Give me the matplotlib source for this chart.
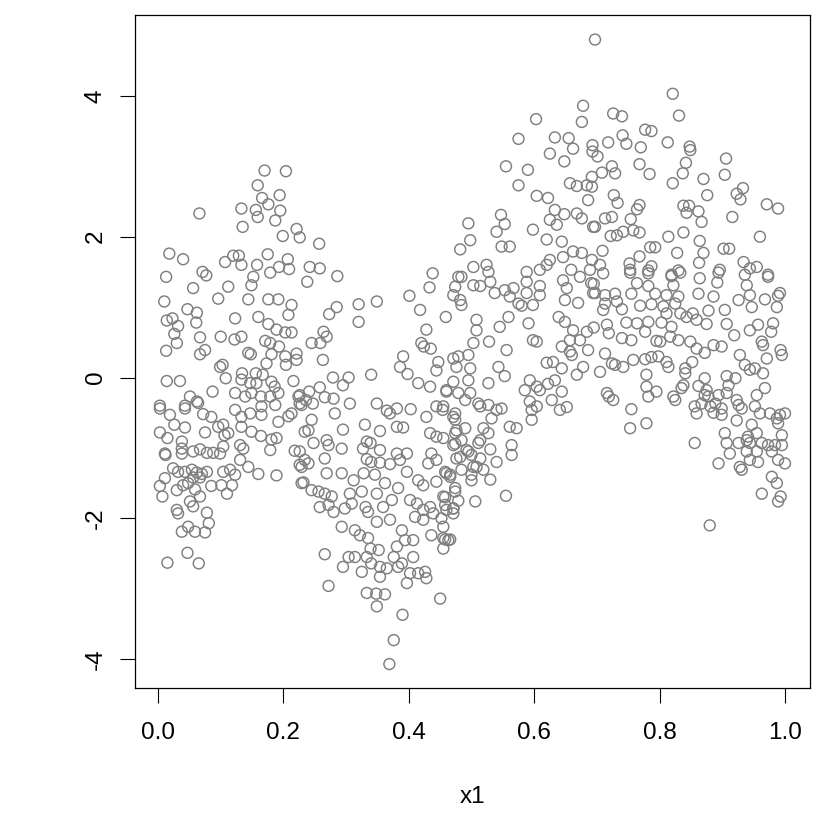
import numpy as np
import matplotlib
matplotlib.use("Agg")
import matplotlib.pyplot as plt

# points, (x1, y), grouped by area of the plot
left_upper = [
    (0.170, 2.94), (0.204, 2.93), (0.159, 2.73), (0.194, 2.59), (0.166, 2.55), (0.176, 2.46),
    (0.066, 2.33), (0.133, 2.40), (0.156, 2.38), (0.195, 2.37), (0.159, 2.28), (0.187, 2.23),
    (0.135, 2.14), (0.221, 2.11), (0.226, 1.99), (0.199, 2.01), (0.018, 1.76), (0.040, 1.68),
    (0.107, 1.64), (0.120, 1.73), (0.129, 1.73), (0.133, 1.60), (0.175, 1.75), (0.158, 1.60),
    (0.207, 1.68), (0.193, 1.57), (0.209, 1.54), (0.179, 1.49), (0.152, 1.43), (0.013, 1.43),
    (0.071, 1.50), (0.077, 1.45), (0.149, 1.31), (0.056, 1.27), (0.112, 1.29), (0.096, 1.12),
    (0.144, 1.11), (0.176, 1.11), (0.192, 1.11), (0.213, 1.03), (0.010, 1.08), (0.047, 0.97),
    (0.062, 0.92), (0.208, 0.89), (0.123, 0.84), (0.160, 0.86), (0.014, 0.81), (0.023, 0.84),
    (0.032, 0.73), (0.061, 0.78), (0.176, 0.76), (0.189, 0.68), (0.203, 0.64), (0.213, 0.64),
    (0.026, 0.62), (0.067, 0.57), (0.100, 0.58), (0.122, 0.54), (0.133, 0.58), (0.171, 0.52),
    (0.179, 0.49), (0.193, 0.44), (0.013, 0.38), (0.030, 0.49), (0.075, 0.39), (0.067, 0.33),
    (0.144, 0.35), (0.148, 0.33), (0.181, 0.33), (0.203, 0.30), (0.221, 0.34), (0.221, 0.25),
    (0.173, 0.20), (0.204, 0.18), (0.099, 0.15), (0.103, 0.18), (0.108, -0.01), (0.134, 0.06),
    (0.156, 0.06), (0.167, 0.04), (0.133, -0.03), (0.147, -0.08), (0.157, -0.08), (0.181, -0.06),
    (0.186, -0.13), (0.216, -0.05), (0.014, -0.05), (0.035, -0.05), (0.087, -0.20), (0.123, -0.22),
    (0.139, -0.27), (0.149, -0.22), (0.164, -0.27), (0.179, -0.27), (0.192, -0.22), (0.051, -0.27),
    (0.062, -0.34), (0.003, -0.40), (0.043, -0.40), (0.224, -0.27), (0.229, -0.39),
]

left_lower = [
    (0.003, -0.44), (0.019, -0.53), (0.043, -0.44), (0.064, -0.36), (0.072, -0.52), (0.085, -0.56),
    (0.026, -0.67), (0.043, -0.71), (0.003, -0.78), (0.015, -0.86), (0.038, -0.91), (0.038, -1.01),
    (0.075, -0.78), (0.096, -0.70), (0.104, -0.67), (0.112, -0.79), (0.123, -0.46), (0.133, -0.56),
    (0.147, -0.51), (0.165, -0.41), (0.165, -0.53), (0.187, -0.39), (0.192, -0.63), (0.208, -0.55),
    (0.213, -0.51), (0.226, -0.37), (0.133, -0.70), (0.149, -0.77), (0.164, -0.83), (0.181, -0.88),
    (0.189, -0.86), (0.106, -0.82), (0.104, -0.98), (0.131, -0.96), (0.136, -1.01), (0.179, -1.03),
    (0.011, -1.08), (0.012, -1.10), (0.056, -1.05), (0.067, -1.02), (0.078, -1.07), (0.088, -1.07),
    (0.099, -1.08), (0.038, -1.08), (0.218, -1.04), (0.226, -1.05), (0.234, -0.77), (0.229, -1.27),
    (0.229, -1.50), (0.131, -1.17), (0.144, -1.27), (0.160, -1.37), (0.189, -1.39), (0.024, -1.29),
    (0.032, -1.34), (0.043, -1.34), (0.054, -1.31), (0.062, -1.35), (0.070, -1.37), (0.078, -1.34),
    (0.056, -1.42), (0.067, -1.42), (0.104, -1.34), (0.115, -1.31), (0.123, -1.38), (0.011, -1.43),
    (0.003, -1.54), (0.007, -1.69), (0.030, -1.60), (0.040, -1.53), (0.048, -1.50), (0.059, -1.59),
    (0.085, -1.54), (0.101, -1.53), (0.110, -1.65), (0.118, -1.53), (0.067, -1.69), (0.051, -1.76),
    (0.056, -1.83), (0.030, -1.88), (0.032, -1.93), (0.078, -1.92), (0.048, -2.12), (0.038, -2.19),
    (0.059, -2.19), (0.075, -2.20), (0.081, -2.07), (0.047, -2.49), (0.015, -2.63), (0.065, -2.64),
]

trough = [
    (0.285, 1.00), (0.273, 0.90), (0.320, 1.04), (0.349, 1.08), (0.320, 0.79), (0.418, 0.96),
    (0.459, 0.86), (0.428, 0.68), (0.420, 0.49), (0.424, 0.44), (0.435, 0.41), (0.245, 0.49),
    (0.259, 0.49), (0.264, 0.65), (0.269, 0.58), (0.263, 0.25), (0.391, 0.30), (0.386, 0.15),
    (0.398, 0.05), (0.447, 0.22), (0.444, 0.10), (0.340, 0.04), (0.279, 0.00), (0.304, 0.00),
    (0.295, -0.11), (0.258, -0.14), (0.415, -0.08), (0.434, -0.13), (0.460, -0.18), (0.226, -0.25),
    (0.241, -0.20), (0.236, -0.32), (0.247, -0.37), (0.266, -0.28), (0.280, -0.30), (0.306, -0.37),
    (0.282, -0.51), (0.349, -0.37), (0.365, -0.47), (0.370, -0.51), (0.381, -0.44), (0.403, -0.45),
    (0.428, -0.56), (0.444, -0.41), (0.454, -0.46), (0.471, -0.56), (0.245, -0.60), (0.240, -0.75),
    (0.295, -0.74), (0.330, -0.67), (0.354, -0.76), (0.381, -0.70), (0.391, -0.71), (0.434, -0.79),
    (0.444, -0.84), (0.474, -0.79), (0.248, -0.93), (0.269, -0.89), (0.272, -0.96), (0.293, -1.01),
    (0.327, -1.01), (0.333, -0.91), (0.339, -0.93), (0.354, -1.03), (0.381, -1.08), (0.397, -1.08),
    (0.436, -1.08), (0.476, -1.15), (0.266, -1.15), (0.234, -1.17), (0.240, -1.22), (0.226, -1.24),
    (0.333, -1.16), (0.340, -1.20), (0.354, -1.21), (0.370, -1.23), (0.386, -1.17), (0.431, -1.22),
    (0.444, -1.17), (0.458, -1.34), (0.466, -1.38), (0.269, -1.36), (0.293, -1.36), (0.312, -1.46),
    (0.328, -1.36), (0.346, -1.38), (0.397, -1.34), (0.232, -1.49), (0.245, -1.60), (0.256, -1.62),
    (0.266, -1.65), (0.277, -1.69), (0.306, -1.65), (0.325, -1.62), (0.349, -1.65), (0.362, -1.50),
    (0.383, -1.57), (0.415, -1.46), (0.423, -1.53), (0.444, -1.48), (0.455, -1.69), (0.474, -1.62),
    (0.258, -1.84), (0.272, -1.81), (0.280, -1.91), (0.298, -1.86), (0.309, -1.79), (0.331, -1.84),
    (0.335, -1.91), (0.359, -1.84), (0.373, -1.74), (0.402, -1.74), (0.413, -1.79), (0.423, -1.88),
    (0.434, -1.84), (0.410, -1.98), (0.423, -2.02), (0.439, -1.93), (0.458, -1.81), (0.471, -1.86),
    (0.293, -2.12), (0.314, -2.17), (0.322, -2.24), (0.335, -2.28), (0.349, -2.05), (0.370, -2.02),
    (0.389, -2.17), (0.436, -2.24), (0.455, -2.28), (0.463, -2.31), (0.407, -2.31), (0.394, -2.31),
    (0.339, -2.43), (0.352, -2.45), (0.381, -2.40), (0.266, -2.51), (0.304, -2.55), (0.314, -2.55),
    (0.333, -2.55), (0.295, -2.69), (0.325, -2.76), (0.340, -2.64), (0.354, -2.69), (0.365, -2.71),
    (0.376, -2.55), (0.383, -2.69), (0.389, -2.64), (0.407, -2.55), (0.402, -2.78), (0.415, -2.78),
    (0.426, -2.76), (0.428, -2.85), (0.354, -2.83), (0.397, -2.92), (0.272, -2.96), (0.333, -3.06),
    (0.348, -3.07), (0.362, -3.08), (0.349, -3.25), (0.450, -3.14), (0.390, -3.37), (0.376, -3.73),
    (0.369, -4.07), (0.257, 1.90), (0.242, 1.57), (0.258, 1.55), (0.286, 1.44), (0.238, 1.36),
    (0.438, 1.48), (0.433, 1.28), (0.401, 1.16),
]

rise = [
    (0.575, 2.73), (0.604, 2.58), (0.622, 2.55), (0.657, 2.76), (0.668, 2.72), (0.684, 2.73),
    (0.686, 2.52), (0.633, 2.38), (0.648, 2.32), (0.668, 2.33), (0.676, 2.26), (0.625, 2.24),
    (0.636, 2.17), (0.598, 2.10), (0.694, 2.14), (0.547, 2.31), (0.553, 2.18), (0.540, 2.07),
    (0.495, 2.19), (0.498, 1.95), (0.482, 1.82), (0.548, 1.86), (0.561, 1.86), (0.620, 1.96),
    (0.644, 1.93), (0.662, 1.79), (0.676, 1.77), (0.625, 1.67), (0.646, 1.71), (0.620, 1.60),
    (0.503, 1.57), (0.524, 1.60), (0.527, 1.50), (0.479, 1.43), (0.484, 1.43), (0.588, 1.50),
    (0.609, 1.53), (0.659, 1.53), (0.689, 1.53), (0.673, 1.43), (0.588, 1.36), (0.609, 1.30),
    (0.646, 1.38), (0.652, 1.27), (0.691, 1.34), (0.503, 1.31), (0.514, 1.30), (0.530, 1.36),
    (0.537, 1.20), (0.553, 1.24), (0.567, 1.27), (0.588, 1.20), (0.609, 1.17), (0.474, 1.29),
    (0.471, 1.17), (0.482, 1.10), (0.484, 1.03), (0.561, 1.15), (0.575, 1.05), (0.580, 1.02),
    (0.598, 1.03), (0.649, 1.10), (0.670, 1.06), (0.694, 1.20), (0.508, 0.82), (0.508, 0.67),
    (0.545, 0.72), (0.559, 0.86), (0.591, 0.77), (0.639, 0.86), (0.649, 0.79), (0.662, 0.67),
    (0.684, 0.65), (0.503, 0.49), (0.528, 0.51), (0.598, 0.53), (0.604, 0.51), (0.657, 0.53),
    (0.673, 0.53), (0.686, 0.39), (0.644, 0.44), (0.657, 0.37), (0.660, 0.32), (0.556, 0.39),
    (0.471, 0.27), (0.479, 0.30), (0.495, 0.32), (0.476, 0.15), (0.498, 0.13), (0.620, 0.21),
    (0.630, 0.22), (0.543, 0.15), (0.553, 0.02), (0.644, 0.13), (0.668, 0.04), (0.678, 0.15),
    (0.527, -0.08), (0.495, -0.04), (0.471, -0.06), (0.460, -0.20), (0.479, -0.22), (0.498, -0.22),
    (0.585, -0.18), (0.593, -0.04), (0.604, -0.13), (0.622, -0.09), (0.633, -0.04), (0.644, -0.20),
    (0.609, -0.18), (0.490, -0.32), (0.511, -0.37), (0.514, -0.41), (0.527, -0.39), (0.540, -0.46),
    (0.548, -0.44), (0.455, -0.41), (0.593, -0.34), (0.596, -0.46), (0.604, -0.41), (0.628, -0.32),
    (0.641, -0.46), (0.652, -0.42), (0.474, -0.51), (0.474, -0.60), (0.532, -0.58), (0.596, -0.60),
    (0.561, -0.70), (0.572, -0.72), (0.490, -0.72), (0.476, -0.75), (0.519, -0.72), (0.527, -0.79),
    (0.484, -0.89), (0.471, -0.96), (0.514, -0.89), (0.564, -0.96), (0.564, -1.10), (0.530, -1.02),
    (0.540, -1.20), (0.492, -1.03), (0.500, -1.10), (0.455, -0.86), (0.482, -1.13), (0.508, -1.27),
    (0.519, -1.31), (0.460, -1.36), (0.500, -1.38), (0.474, -0.94), (0.511, -0.93), (0.495, -1.05),
    (0.514, -1.15), (0.484, -1.31), (0.503, -1.27), (0.466, -1.41), (0.500, -1.46), (0.530, -1.45),
    (0.474, -1.57), (0.458, -1.70), (0.479, -1.75), (0.506, -1.76), (0.555, -1.68), (0.471, -1.86),
    (0.460, -1.88), (0.471, -1.93), (0.452, -2.00), (0.455, -2.12), (0.458, -2.30), (0.466, -2.30),
    (0.455, -2.43),
    (0.603, 3.67), (0.575, 3.39), (0.633, 3.41), (0.655, 3.40), (0.678, 3.86), (0.676, 3.63),
    (0.555, 3.00), (0.625, 3.18), (0.648, 3.07), (0.662, 3.25), (0.590, 2.95),
]

right_upper = [
    (0.697, 4.80), (0.821, 4.03), (0.831, 3.72), (0.726, 3.75), (0.740, 3.71), (0.777, 3.52),
    (0.787, 3.50), (0.741, 3.44), (0.747, 3.32), (0.718, 3.34), (0.770, 3.27), (0.813, 3.34),
    (0.848, 3.28), (0.849, 3.23), (0.693, 3.30), (0.693, 3.21), (0.701, 3.14), (0.906, 3.11),
    (0.768, 3.03), (0.784, 2.89), (0.842, 3.05), (0.837, 2.90), (0.724, 3.00), (0.729, 2.90),
    (0.708, 2.91), (0.904, 2.88), (0.692, 2.85), (0.870, 2.82), (0.821, 2.76), (0.692, 2.71),
    (0.933, 2.69), (0.923, 2.61), (0.929, 2.53), (0.876, 2.59), (0.727, 2.59), (0.733, 2.48),
    (0.971, 2.46), (0.989, 2.40), (0.768, 2.45), (0.764, 2.39), (0.838, 2.44), (0.847, 2.44),
    (0.843, 2.34), (0.862, 2.36), (0.867, 2.21), (0.916, 2.28), (0.697, 2.14), (0.713, 2.26),
    (0.724, 2.28), (0.754, 2.25), (0.960, 2.00), (0.722, 2.01), (0.732, 2.02), (0.742, 2.07),
    (0.758, 2.09), (0.768, 2.06), (0.814, 2.00), (0.838, 2.06), (0.864, 1.94), (0.709, 1.80),
    (0.785, 1.85), (0.793, 1.85), (0.828, 1.77), (0.870, 1.77), (0.902, 1.83), (0.911, 1.83),
    (0.768, 1.72), (0.752, 1.62), (0.753, 1.53), (0.782, 1.52), (0.787, 1.58), (0.830, 1.52),
    (0.819, 1.46), (0.863, 1.63), (0.896, 1.53), (0.934, 1.64), (0.944, 1.55), (0.955, 1.57),
    (0.973, 1.46), (0.705, 1.60), (0.692, 1.67),
]

right_lower = [
    (0.710, 1.48), (0.753, 1.49), (0.782, 1.48), (0.819, 1.44), (0.833, 1.49), (0.864, 1.41),
    (0.894, 1.49), (0.892, 1.35), (0.936, 1.46), (0.973, 1.43), (0.939, 1.31), (0.695, 1.33),
    (0.697, 1.20), (0.713, 1.17), (0.729, 1.19), (0.764, 1.34), (0.782, 1.30), (0.822, 1.31),
    (0.755, 1.19), (0.793, 1.19), (0.811, 1.17), (0.830, 1.15), (0.862, 1.19), (0.886, 1.15),
    (0.944, 1.17), (0.926, 1.10), (0.968, 1.11), (0.992, 1.20), (0.989, 1.16), (0.713, 1.05),
    (0.710, 0.96), (0.732, 1.08), (0.740, 0.97), (0.769, 1.02), (0.787, 1.04), (0.806, 1.01),
    (0.825, 1.05), (0.811, 0.91), (0.833, 0.91), (0.853, 0.91), (0.878, 0.95), (0.904, 0.96),
    (0.947, 1.00), (0.987, 1.00), (0.695, 0.71), (0.716, 0.75), (0.747, 0.78), (0.764, 0.77),
    (0.782, 0.79), (0.803, 0.78), (0.819, 0.72), (0.843, 0.86), (0.859, 0.82), (0.875, 0.76),
    (0.907, 0.76), (0.919, 0.60), (0.944, 0.67), (0.957, 0.75), (0.981, 0.77), (0.978, 0.65),
    (0.719, 0.63), (0.740, 0.56), (0.755, 0.53), (0.777, 0.65), (0.795, 0.52), (0.801, 0.51),
    (0.817, 0.58), (0.830, 0.53), (0.849, 0.51), (0.859, 0.41), (0.872, 0.35), (0.886, 0.46),
    (0.899, 0.44), (0.963, 0.51), (0.965, 0.46), (0.993, 0.39), (0.995, 0.32), (0.713, 0.34),
    (0.724, 0.20), (0.729, 0.18), (0.742, 0.15), (0.758, 0.25), (0.777, 0.26), (0.787, 0.29),
    (0.798, 0.30), (0.811, 0.22), (0.814, 0.15), (0.841, 0.13), (0.852, 0.22), (0.928, 0.32),
    (0.936, 0.18), (0.952, 0.13), (0.971, 0.27), (0.705, 0.08), (0.779, 0.04), (0.841, 0.06),
    (0.907, 0.02), (0.921, -0.01), (0.944, 0.11), (0.965, 0.06), (0.872, -0.01), (0.968, -0.15),
    (0.779, -0.13), (0.795, -0.20), (0.782, -0.27), (0.838, -0.11), (0.835, -0.15), (0.862, -0.12),
    (0.875, -0.18), (0.872, -0.25), (0.878, -0.27), (0.910, -0.11), (0.907, -0.22), (0.894, -0.25),
    (0.923, -0.32), (0.955, -0.25), (0.716, -0.22), (0.719, -0.27), (0.726, -0.32), (0.822, -0.27),
    (0.825, -0.32), (0.856, -0.41), (0.867, -0.37), (0.881, -0.41), (0.889, -0.37), (0.899, -0.44),
    (0.926, -0.39), (0.931, -0.44), (0.952, -0.41), (0.960, -0.51), (0.976, -0.51), (0.992, -0.53),
    (1.000, -0.51), (0.755, -0.45), (0.859, -0.51), (0.886, -0.50), (0.899, -0.53), (0.923, -0.61),
    (0.987, -0.58), (0.989, -0.65), (0.753, -0.72), (0.779, -0.65), (0.947, -0.67), (0.904, -0.79),
    (0.941, -0.84), (0.955, -0.79), (0.995, -0.82), (0.856, -0.93), (0.907, -0.93), (0.926, -0.93),
    (0.939, -0.89), (0.944, -0.93), (0.963, -0.93), (0.973, -0.96), (0.984, -0.96), (0.995, -0.96),
    (0.912, -1.08), (0.939, -1.05), (0.955, -1.05), (0.979, -1.05), (0.894, -1.22), (0.928, -1.27),
    (0.931, -1.31), (0.944, -1.17), (0.957, -1.20), (0.989, -1.17), (1.000, -1.22), (0.979, -1.41),
    (0.987, -1.50), (0.963, -1.65), (0.993, -1.69), (0.989, -1.76), (0.880, -2.10),
]

x_ticks = [0.0, 0.2, 0.4, 0.6, 0.8, 1.0]
y_ticks = [-4, -2, 0, 2, 4]

pts = np.array(left_upper + left_lower + trough + rise + right_upper + right_lower)
x1, y = pts[:, 0], pts[:, 1]

plt.rcParams['font.family'] = ['Liberation Sans', 'DejaVu Sans']

fig = plt.figure(figsize=(8.25, 8.25), dpi=100)
ax = fig.add_axes([135 / 825, 1 - 688 / 825, 675 / 825, 673 / 825])

ax.scatter(x1, y, s=62, facecolors='none', edgecolors='#7f7f7f', linewidths=1.05)

ax.set_xlim(-0.0367, 1.0399)
ax.set_ylim(-4.41, 5.149)
ax.set_xticks(x_ticks)
ax.set_xticklabels(['%.1f' % t for t in x_ticks])
ax.set_yticks(y_ticks)
ax.set_yticklabels([str(t) for t in y_ticks], rotation=90, va='center')

ax.tick_params(axis='both', direction='out', length=10.5, width=0.8, labelsize=17.5, color='black')
ax.tick_params(axis='x', pad=14)
ax.tick_params(axis='y', pad=10)
for sp in ax.spines.values():
    sp.set_linewidth(0.9)
    sp.set_color('black')

ax.set_xlabel('x1', fontsize=17.5, va='center')
ax.xaxis.set_label_coords(0.5, -(797 - 688) / 673)

fig.savefig('out.png', dpi=100)
